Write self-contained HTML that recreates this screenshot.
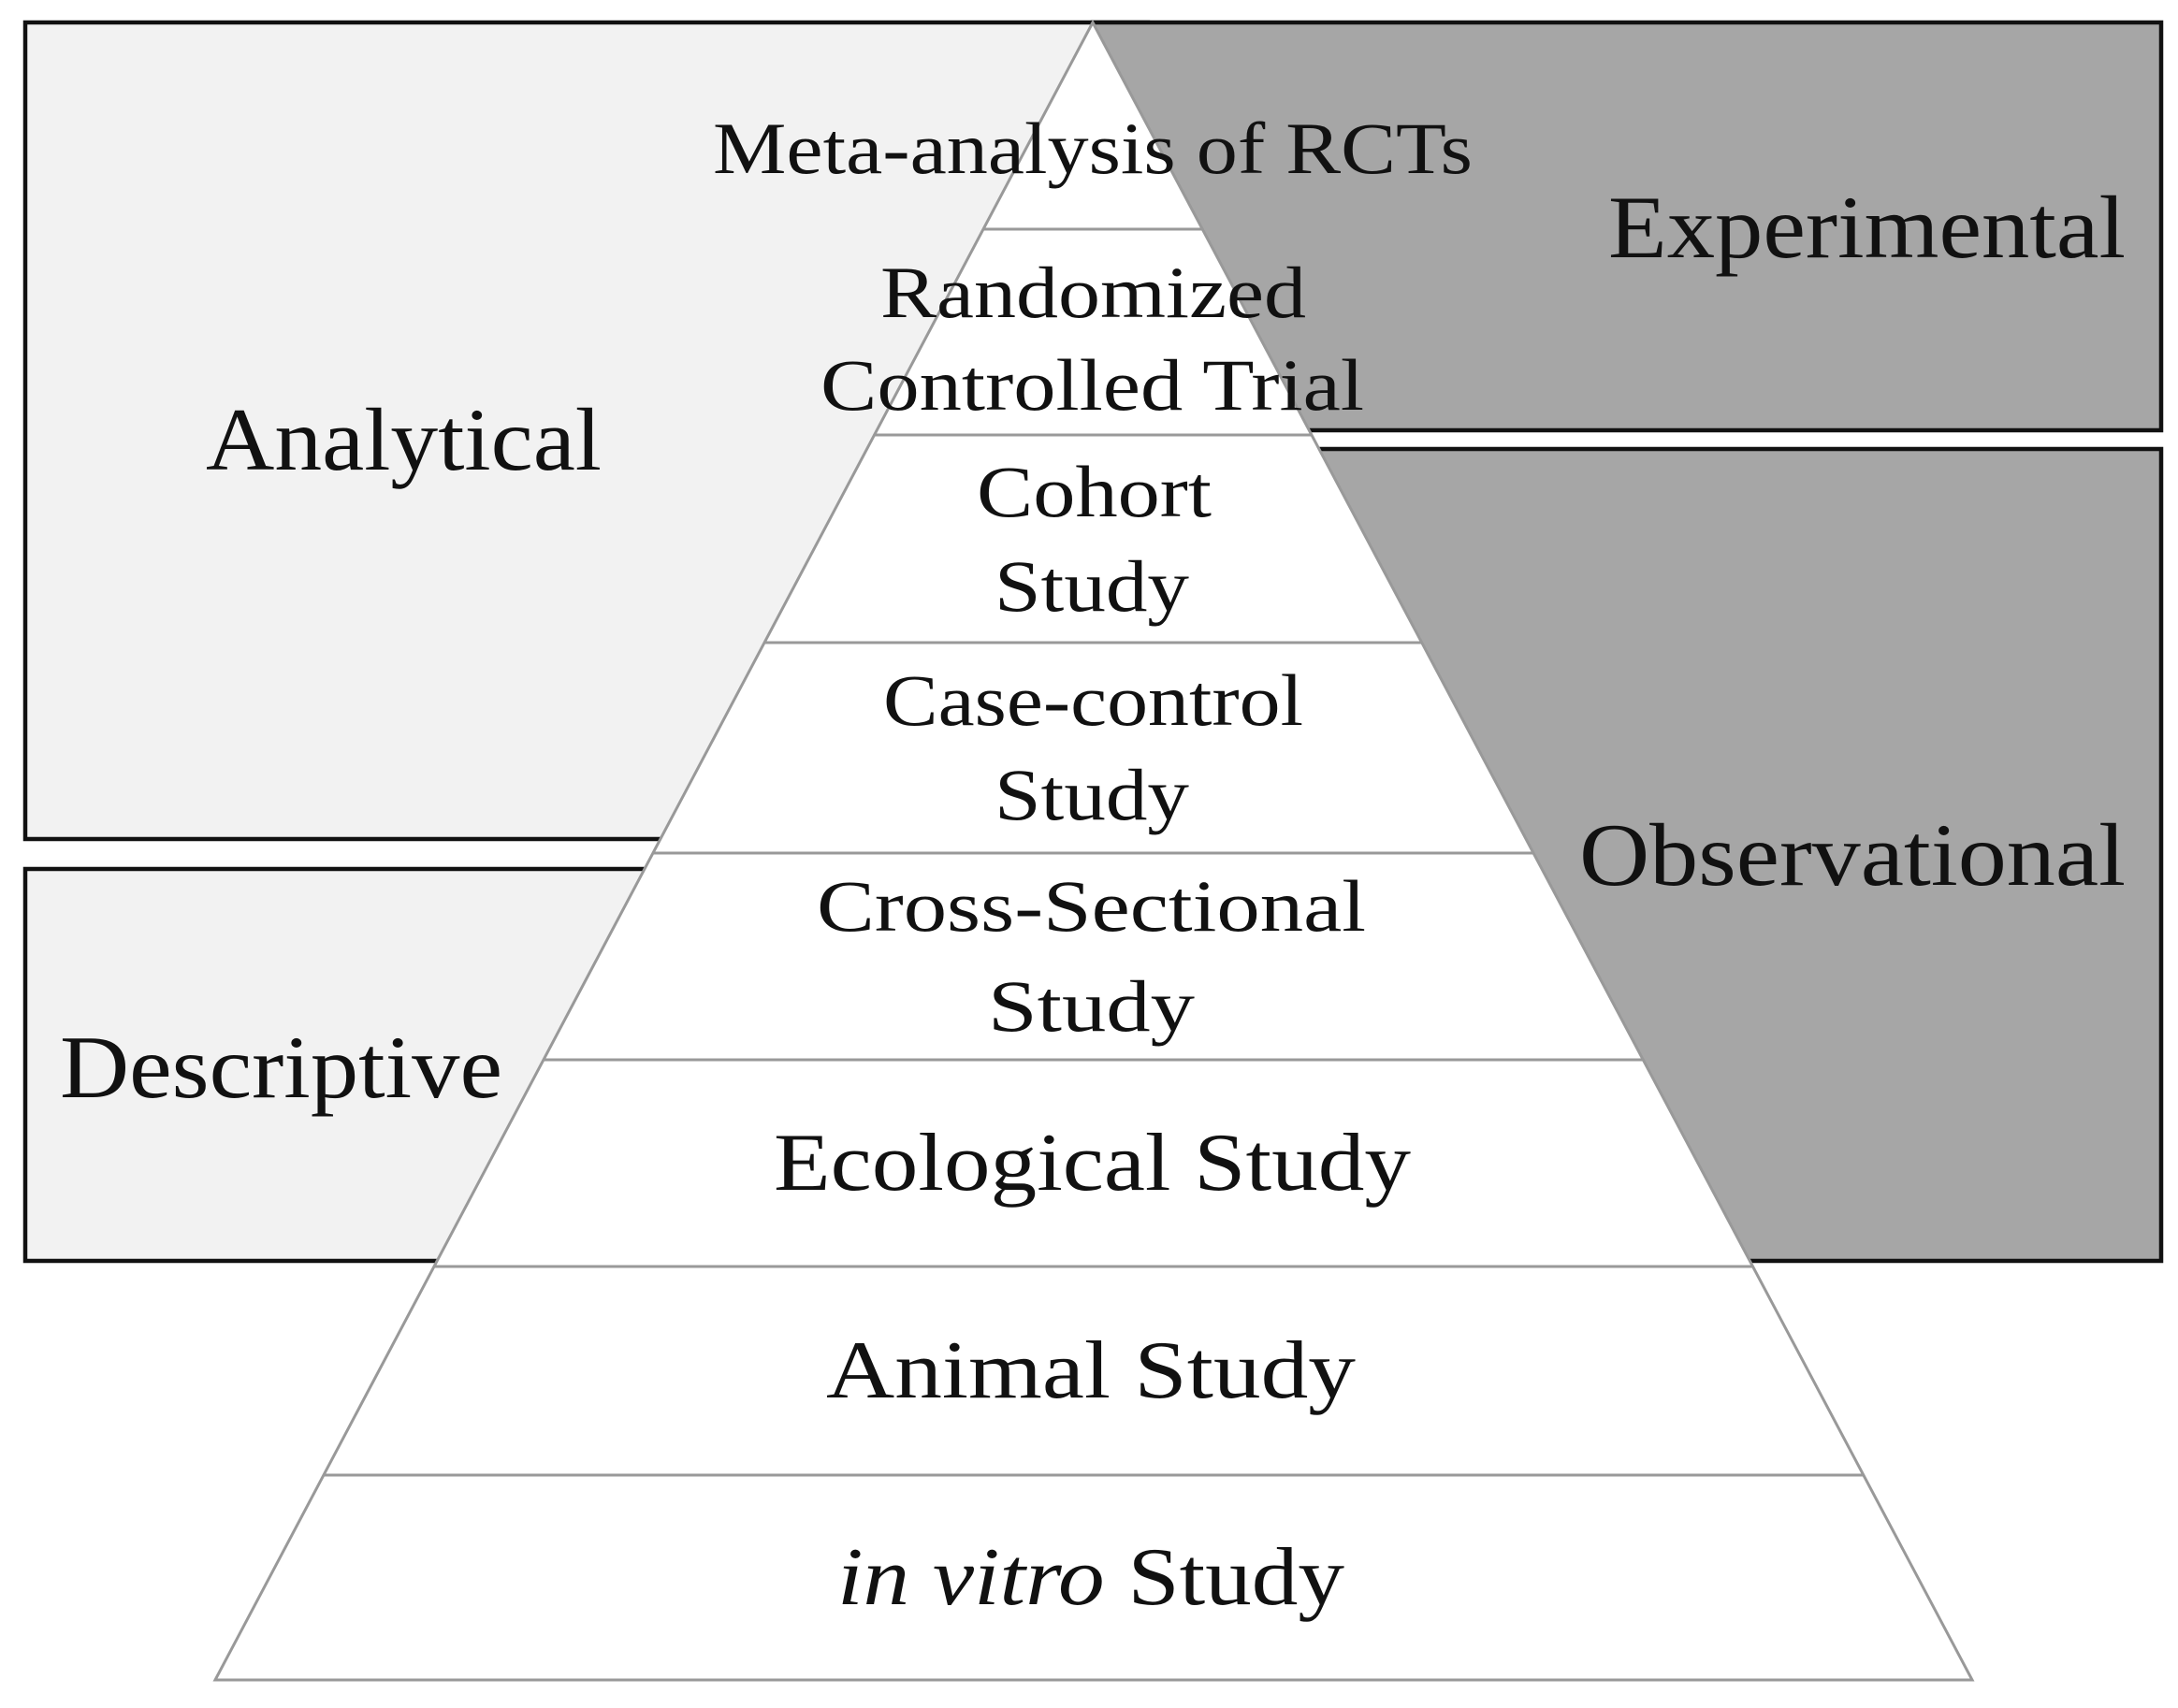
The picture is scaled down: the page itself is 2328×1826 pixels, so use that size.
<!DOCTYPE html>
<html><head><meta charset="utf-8"><style>
html,body{margin:0;padding:0;background:#fff}
svg{display:block}
text{font-family:"Liberation Serif",serif;fill:#111}
</style></head><body>
<svg id="chart" width="2328" height="1826" viewBox="0 0 2328 1826">
<rect x="27" y="24" width="1200" height="873" fill="#f2f2f2" stroke="#111" stroke-width="4.5"/>
<rect x="27" y="929" width="700" height="419" fill="#f2f2f2" stroke="#111" stroke-width="4.5"/>
<rect x="1168" y="24" width="1142" height="436" fill="#a6a6a6" stroke="#111" stroke-width="4.5"/>
<rect x="1300" y="480" width="1010" height="868" fill="#a6a6a6" stroke="#111" stroke-width="4.5"/>
<g id="pyr"></g>
<text x="220" y="502" font-size="95" textLength="423" lengthAdjust="spacingAndGlyphs">Analytical</text>
<text x="64" y="1173" font-size="95" textLength="473" lengthAdjust="spacingAndGlyphs">Descriptive</text>
<text x="1719" y="275" font-size="95" textLength="553" lengthAdjust="spacingAndGlyphs">Experimental</text>
<text x="1688" y="946" font-size="95" textLength="584" lengthAdjust="spacingAndGlyphs">Observational</text>
<g id="labels"></g>
</svg>
<script>
const levels = ["Meta-analysis of RCTs","Randomized Controlled Trial","Cohort Study","Case-control Study","Cross-Sectional Study","Ecological Study","Animal Study","in vitro Study"];
const dividerY = [245, 465, 687, 912, 1133, 1354, 1577];
const NS="http://www.w3.org/2000/svg";
const apex={x:1168,y:24}, baseY=1796, baseL=230, baseR=2108;
function xl(y){return apex.x+(baseL-apex.x)*(y-apex.y)/(baseY-apex.y);}
function xr(y){return apex.x+(baseR-apex.x)*(y-apex.y)/(baseY-apex.y);}
const pyr=document.getElementById('pyr');
const tri=document.createElementNS(NS,'polygon');
tri.setAttribute('points',`${apex.x},${apex.y} ${baseR},${baseY} ${baseL},${baseY}`);
tri.setAttribute('fill','#fff');tri.setAttribute('stroke','#999');tri.setAttribute('stroke-width','3');


pyr.appendChild(tri);
dividerY.forEach(y=>{
  const l=document.createElementNS(NS,'line');
  l.setAttribute('x1',xl(y));l.setAttribute('x2',xr(y));l.setAttribute('y1',y);l.setAttribute('y2',y);
  l.setAttribute('stroke','#999');l.setAttribute('stroke-width','3');
  
  
  pyr.appendChild(l);
});
const lines=[
 ["Meta-analysis of RCTs",762,185,812,78],
 ["Randomized",941,339,455,78],
 ["Controlled Trial",877,438,581,78],
 ["Cohort",1044,552,251,78],
 ["Study",1063,653,208,78],
 ["Case-control",944,775,449,78],
 ["Study",1063,876,208,78],
 ["Cross-Sectional",873,995,587,78],
 ["Study",1056,1102,221,78],
 ["Ecological Study",827,1272,681,88],
 ["Animal Study",883,1494,566,88],
];
const lab=document.getElementById('labels');
lines.forEach(d=>{
  const t=document.createElementNS(NS,'text');
  t.setAttribute('x',d[1]);t.setAttribute('y',d[2]);t.setAttribute('font-size',d[4]);
  t.setAttribute('textLength',d[3]);t.setAttribute('lengthAdjust','spacingAndGlyphs');
  t.textContent=d[0];
  
  
  lab.appendChild(t);
});
const iv=document.createElementNS(NS,'text');
iv.setAttribute('x',895);iv.setAttribute('y',1715);iv.setAttribute('font-size',88);
iv.setAttribute('textLength',542);iv.setAttribute('lengthAdjust','spacingAndGlyphs');
iv.innerHTML='<tspan font-style="italic">in vitro</tspan> Study';


lab.appendChild(iv);
</script>
</body></html>
